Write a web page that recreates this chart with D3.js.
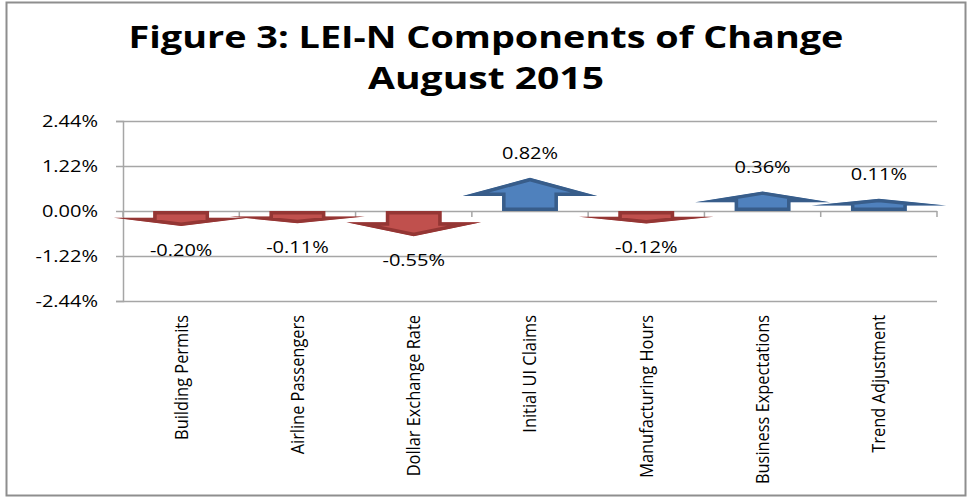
<!DOCTYPE html>
<html>
<head>
<meta charset="utf-8">
<script src="https://cdn.jsdelivr.net/npm/d3@7"></script>
<style>
  body { margin: 0; background: #fff; }
  svg { display: block; }
</style>
</head>
<body>
<div class="chart"></div>
<script>
// chart data
var categories = ["Building Permits", "Airline Passengers", "Dollar Exchange Rate",
  "Initial UI Claims", "Manufacturing Hours", "Business Expectations", "Trend Adjustment"];
var values = [-0.20, -0.11, -0.55, 0.82, -0.12, 0.36, 0.11];
var tickValues = [-2.44, -1.22, 0, 1.22, 2.44];
var titleLines = ["Figure 3: LEI-N Components of Change", "August 2015"];

var svgWidth = 967;
var svgHeight = 497;

var margin = { top: 121, right: 30, bottom: 196, left: 123 };
var width = svgWidth - margin.left - margin.right;
var height = svgHeight - margin.top - margin.bottom;

var svg = d3.select(".chart")
  .append("svg")
  .attr("width", svgWidth)
  .attr("height", svgHeight);

// outer chart border
svg.append("rect")
  .attr("x", 6.5)
  .attr("y", 2.5)
  .attr("width", 959)
  .attr("height", 493)
  .attr("fill", "#fff")
  .attr("stroke", "#8e8e8e")
  .attr("stroke-width", 2);

// title, fitted to the width used in the original
var titleWidths = [715, 236];
titleLines.forEach(function(t, i) {
  var txt = svg.append("text")
    .attr("font-family", "'Open Sans', sans-serif")
    .attr("font-weight", 700)
    .attr("font-size", 31)
    .attr("text-anchor", "middle")
    .attr("fill", "#000")
    .text(t);
  var sx = titleWidths[i] / txt.node().getComputedTextLength();
  txt.attr("transform", `translate(486, ${i === 0 ? 48 : 89}) scale(${sx}, 1)`);
});

var chartGroup = svg.append("g")
  .attr("transform", `translate(${margin.left}, ${margin.top})`);

var xBandScale = d3.scaleBand()
  .domain(categories)
  .range([0, width])
  .padding(0);

var yLinearScale = d3.scaleLinear()
  .domain([-2.44, 2.44])
  .range([height, 0]);

// gridlines
chartGroup.append("g")
  .attr("class", "grid")
  .call(d3.axisLeft(yLinearScale).tickValues(tickValues).tickSize(-width).tickFormat(""))
  .call(g => g.select(".domain").remove())
  .selectAll("line")
  .attr("stroke", "#a6a6a6")
  .attr("stroke-width", 1.5);

// left axis
var leftAxis = chartGroup.append("g")
  .call(d3.axisLeft(yLinearScale)
    .tickValues(tickValues)
    .tickSize(7)
    .tickPadding(0)
    .tickFormat(d => d.toFixed(2) + "%"));

leftAxis.select(".domain")
  .attr("stroke", "#a6a6a6")
  .attr("stroke-width", 1.5);
leftAxis.selectAll("line")
  .attr("stroke", "#a6a6a6")
  .attr("stroke-width", 1.5);
leftAxis.selectAll("text").remove();

var labelFont = "'Open Sans', sans-serif";
var numScale = 1.25;

// tick labels
chartGroup.selectAll(".ytick")
  .data(tickValues)
  .enter()
  .append("text")
  .attr("class", "ytick")
  .attr("transform", d => `translate(-25, ${yLinearScale(d)}) scale(${numScale}, 1)`)
  .attr("text-anchor", "end")
  .attr("dy", "0.35em")
  .attr("font-family", labelFont)
  .attr("font-size", 16)
  .attr("fill", "#000")
  .text(d => d.toFixed(2) + "%");

// category boundary ticks along the zero line
var y0 = yLinearScale(0);
var bounds = categories.map(d => xBandScale(d)).concat([width]);
chartGroup.selectAll(".xtick")
  .data(bounds)
  .enter()
  .append("line")
  .attr("x1", d => d)
  .attr("x2", d => d)
  .attr("y1", y0)
  .attr("y2", y0 + 6)
  .attr("stroke", "#a6a6a6")
  .attr("stroke-width", 1.5);

// arrow shaped bars
function arrowGeom(d, i) {
  var cx = xBandScale(categories[i]) + xBandScale.bandwidth() / 2;
  var dir = d >= 0 ? 1 : -1;
  var delta = Math.abs(yLinearScale(d) - y0);
  var len = delta * 0.8 + 9;
  var shaft = len * 0.45;
  var ws = xBandScale.bandwidth() * 0.48;
  var wh = xBandScale.bandwidth() * 1.16;
  var yb = y0 - dir * shaft;
  var tip = y0 - dir * len;
  var pts = [
    [cx - ws / 2, y0], [cx - ws / 2, yb], [cx - wh / 2, yb], [cx, tip],
    [cx + wh / 2, yb], [cx + ws / 2, yb], [cx + ws / 2, y0]
  ];
  return { cx: cx, dir: dir, tip: tip, path: "M" + pts.join("L") + "Z" };
}

var geoms = values.map(arrowGeom);

var defs = svg.append("defs");
defs.selectAll("clipPath")
  .data(geoms)
  .enter()
  .append("clipPath")
  .attr("id", (d, i) => "arrowClip" + i)
  .append("path")
  .attr("d", d => d.path);

chartGroup.selectAll(".arrow")
  .data(geoms)
  .enter()
  .append("path")
  .attr("class", "arrow")
  .attr("d", d => d.path)
  .attr("clip-path", (d, i) => `url(#arrowClip${i})`)
  .attr("fill", d => d.dir > 0 ? "#4f81bd" : "#c0504d")
  .attr("stroke", d => d.dir > 0 ? "#385d8a" : "#943634")
  .attr("stroke-width", 7)
  .attr("stroke-linejoin", "miter");

// value labels
chartGroup.selectAll(".vlabel")
  .data(values)
  .enter()
  .append("text")
  .attr("class", "vlabel")
  .attr("transform", (d, i) => `translate(${geoms[i].cx}, ${geoms[i].tip - geoms[i].dir * 24}) scale(${numScale}, 1)`)
  .attr("text-anchor", "middle")
  .attr("dy", "0.35em")
  .attr("font-family", labelFont)
  .attr("font-size", 16)
  .attr("fill", "#000")
  .text(d => d.toFixed(2) + "%");

// rotated category labels
var catLabels = chartGroup.selectAll(".xlabel")
  .data(categories)
  .enter()
  .append("text")
  .attr("class", "xlabel")
  .attr("text-anchor", "end")
  .attr("dy", "0.36em")
  .attr("font-family", labelFont)
  .attr("font-size", 18)
  .attr("fill", "#000")
  .text(d => d);

var catScale = 125 / catLabels.filter((d, i) => i === 0).node().getComputedTextLength();
catLabels.attr("transform", d =>
  `translate(${xBandScale(d) + xBandScale.bandwidth() / 2}, ${height + 14}) rotate(-90) scale(${catScale}, 1)`);
</script>
</body>
</html>
